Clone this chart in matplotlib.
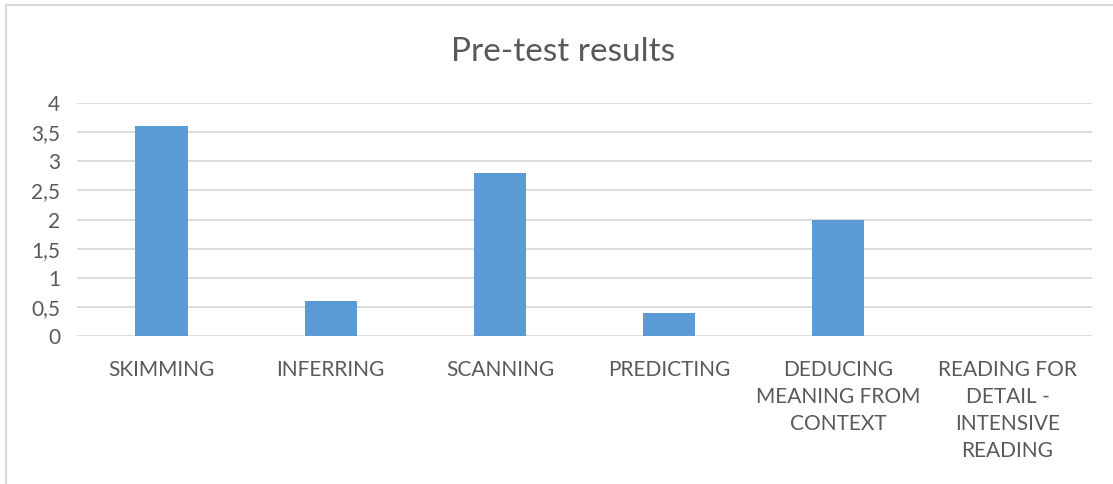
import matplotlib
matplotlib.use("Agg")
import matplotlib.pyplot as plt
from matplotlib.patches import Rectangle
from matplotlib.ticker import FuncFormatter

categories = ["SKIMMING", "INFERRING", "SCANNING", "PREDICTING",
              "DEDUCING\nMEANING FROM\nCONTEXT",
              "READING FOR\nDETAIL -\nINTENSIVE\nREADING"]
values = [3.6, 0.6, 2.8, 0.4, 2.0, 0.0]
y_ticks = [0, 0.5, 1, 1.5, 2, 2.5, 3, 3.5, 4]

text_color = "#595959"
plt.rcParams["font.family"] = ["Lato", "DejaVu Sans"]

W, H = 1113, 484
fig = plt.figure(figsize=(W / 100, H / 100), dpi=100)
ax = fig.add_axes([77 / W, 1 - 336 / H, (1092 - 77) / W, (336 - 103) / H])

x = range(len(categories))
ax.bar(x, values, width=0.31, color="#5B9BD5", zorder=3)

ax.set_xlim(-0.5, len(categories) - 0.5)
ax.set_ylim(0, 4)
ax.set_yticks(y_ticks)
ax.yaxis.set_major_formatter(FuncFormatter(lambda v, p: f"{v:g}".replace(".", ",")))
ax.set_xticks(list(x))
ax.set_xticklabels(categories, linespacing=1.45)
ax.tick_params(axis="both", length=0, colors=text_color, labelsize=15)
ax.tick_params(axis="x", pad=17)
ax.tick_params(axis="y", pad=12)
ax.grid(axis="y", color="#D9D9D9", linewidth=1.3, zorder=0)
for s in ax.spines.values():
    s.set_visible(False)

fig.text(0.506, 1 - 52 / H, "Pre-test results", ha="center", va="center",
         fontsize=24, color=text_color)

# chart area border (right/bottom edges fall outside the image)
fig.patches.append(Rectangle((6 / W, -0.1), 1.2, 1 - 5 / H + 0.1,
                             transform=fig.transFigure, fill=False,
                             edgecolor="#D9D9D9", linewidth=1.5))

fig.savefig("out.png", dpi=100)
